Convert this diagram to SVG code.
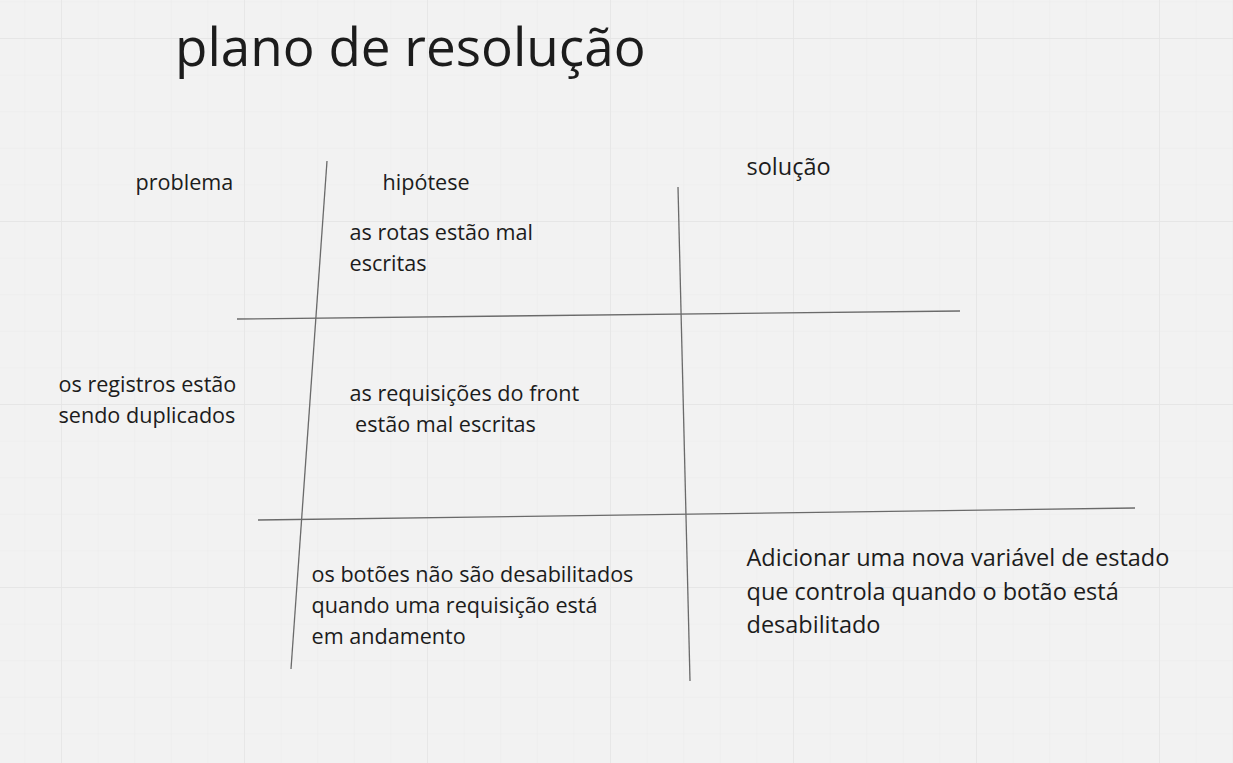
<svg xmlns="http://www.w3.org/2000/svg" width="1233" height="763" viewBox="0 0 1233 763">
<defs>
<pattern id="minor" x="24.4" y="1.4" width="36.6" height="36.6" patternUnits="userSpaceOnUse">
<path d="M0 0V36.6M0 0H36.6" fill="none" stroke="#ebebeb" stroke-width="1"/>
</pattern>
<pattern id="major" x="61" y="38" width="183" height="183" patternUnits="userSpaceOnUse">
<path d="M0 0V183M0 0H183" fill="none" stroke="#e4e4e4" stroke-width="1.4"/>
</pattern>
</defs>
<style>
text{font-family:"Open Sans","Noto Sans","Liberation Sans",sans-serif;fill:#1c1c1c}
.t22{font-size:21.6px}
.t24{font-size:23.5px}
.title{font-size:53px}
.rule{stroke:#6a6a6a;stroke-width:1.3;fill:none}
</style>
<rect width="1233" height="763" fill="#f2f2f2"/>
<rect width="1233" height="763" fill="url(#minor)"/>
<rect width="1233" height="763" fill="url(#major)"/>
<g id="connectors">
<line class="rule" x1="327" y1="161" x2="291" y2="669"/>
<line class="rule" x1="678" y1="187" x2="690" y2="681"/>
<line class="rule" x1="237" y1="319" x2="960" y2="311"/>
<line class="rule" x1="258" y1="520" x2="1135" y2="508"/>
</g>
<g id="title"><text class="title" x="175" y="66">plano de resolução</text></g>
<g id="h-problema"><text class="t22" x="135.5" y="190">problema</text></g>
<g id="h-hipotese"><text class="t22" x="382.5" y="190">hipótese</text></g>
<g id="h-solucao"><text class="t24" x="746.5" y="175">solução</text></g>
<g id="problem1"><text class="t22" x="58.5" y="392">os registros estão<tspan x="58.5" y="423">sendo duplicados</tspan></text></g>
<g id="hyp1"><text class="t22" x="349.5" y="240">as rotas estão mal<tspan x="349.5" y="271">escritas</tspan></text></g>
<g id="hyp2"><text class="t22" x="349.5" y="401" xml:space="preserve">as requisições do front<tspan x="349.5" y="432"> estão mal escritas</tspan></text></g>
<g id="hyp3"><text class="t22" x="311.5" y="582">os botões não são desabilitados<tspan x="311.5" y="613">quando uma requisição está</tspan><tspan x="311.5" y="644">em andamento</tspan></text></g>
<g id="sol3"><text class="t24" x="746.5" y="566">Adicionar uma nova variável de estado<tspan x="746.5" y="600">que controla quando o botão está</tspan><tspan x="746.5" y="633">desabilitado</tspan></text></g>
</svg>
